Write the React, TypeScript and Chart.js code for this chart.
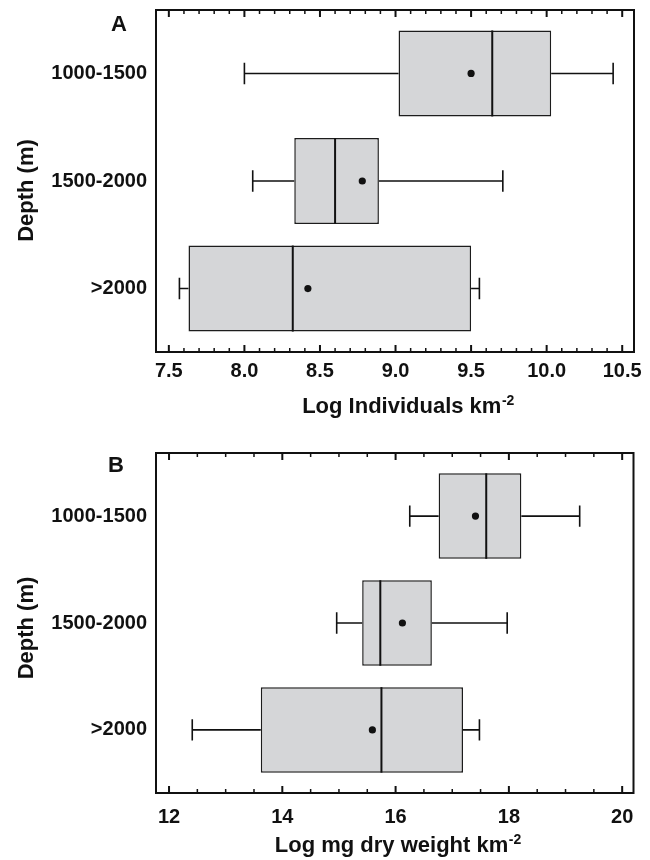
import React, { useEffect, useRef } from "react";
import { Chart, registerables } from "chart.js";

Chart.register(...registerables);

// ---------- data ----------
const DEPTHS = ["1000-1500", "1500-2000", ">2000"];

// Panel A: Log Individuals km-2
const A_LOW = [8.0, 8.055, 7.57];
const A_Q1 = [9.02, 8.33, 7.63];
const A_MEDIAN = [9.64, 8.6, 8.32];
const A_Q3 = [10.03, 8.89, 9.5];
const A_HIGH = [10.44, 9.71, 9.555];
const A_MEAN = [9.5, 8.78, 8.42];
const A_TICKS = [7.5, 8.0, 8.5, 9.0, 9.5, 10.0, 10.5];
const A_MINOR_STEP = 0.1;

// Panel B: Log mg dry weight km-2
const B_LOW = [16.25, 14.96, 12.41];
const B_Q1 = [16.76, 15.41, 13.62];
const B_MEDIAN = [17.6, 15.73, 15.75];
const B_Q3 = [18.22, 16.64, 17.19];
const B_HIGH = [19.25, 17.97, 17.48];
const B_MEAN = [17.41, 16.12, 15.59];
const B_TICKS = [12, 14, 16, 18, 20];
const B_MINOR_STEP = 0.5;

const FONT = "'Liberation Sans', Arial, Helvetica, sans-serif";
const INK = "#111111";
const BOX_FILL = "#d5d6d8";

type PanelCfg = {
  letter: string;
  low: number[];
  q1: number[];
  median: number[];
  q3: number[];
  high: number[];
  mean: number[];
  ticks: number[];
  minorStep: number;
  decimals: number;
  xMin: number;
  xMax: number;
  titleMain: string;
  titleSup: string;
  padTop: number;
  padRight: number;
  xAxisHeight: number;
  yAxisWidth: number;
  tickPad: number;
  letterX: number;
  letterY: number;
  xTitleBaseline: number;
  xTitleShift: number;
  yTitleX: number;
  yTitleShift: number;
};

const PANEL_A: PanelCfg = {
  letter: "A",
  low: A_LOW,
  q1: A_Q1,
  median: A_MEDIAN,
  q3: A_Q3,
  high: A_HIGH,
  mean: A_MEAN,
  ticks: A_TICKS,
  minorStep: A_MINOR_STEP,
  decimals: 1,
  xMin: 7.415,
  xMax: 10.578,
  titleMain: "Log Individuals km",
  titleSup: "-2",
  padTop: 10,
  padRight: 16,
  xAxisHeight: 78,
  yAxisWidth: 156,
  tickPad: 7,
  letterX: 111,
  letterY: 31,
  xTitleBaseline: 413,
  xTitleShift: 13,
  yTitleX: 33,
  yTitleShift: 9.5,
};

const PANEL_B: PanelCfg = {
  letter: "B",
  low: B_LOW,
  q1: B_Q1,
  median: B_MEDIAN,
  q3: B_Q3,
  high: B_HIGH,
  mean: B_MEAN,
  ticks: B_TICKS,
  minorStep: B_MINOR_STEP,
  decimals: 0,
  xMin: 11.77,
  xMax: 20.2,
  titleMain: "Log mg dry weight km",
  titleSup: "-2",
  padTop: 23,
  padRight: 16.5,
  xAxisHeight: 67,
  yAxisWidth: 156,
  tickPad: 12,
  letterX: 108,
  letterY: 42,
  xTitleBaseline: 422,
  xTitleShift: 3,
  yTitleX: 33,
  yTitleShift: 5,
};

const Y_MIN = 0.41;
const Y_MAX = 3.59;
const CAP_HALF = 0.1;

function makeExtras(cfg: PanelCfg) {
  return {
    id: "boxExtras" + cfg.letter,
    afterDatasetsDraw(chart: any) {
      const { ctx, scales } = chart;
      const x = scales.x;
      const y = scales.y;
      const meta = chart.getDatasetMeta(0);
      ctx.save();
      ctx.strokeStyle = INK;
      ctx.fillStyle = INK;
      for (let i = 0; i < DEPTHS.length; i++) {
        const bar = meta.data[i];
        const yc = y.getPixelForValue(i + 1);
        const top = bar.y - bar.height / 2;
        const bottom = bar.y + bar.height / 2;
        const capT = y.getPixelForValue(i + 1 - CAP_HALF);
        const capB = y.getPixelForValue(i + 1 + CAP_HALF);
        const xl = x.getPixelForValue(cfg.low[i]);
        const x1 = x.getPixelForValue(cfg.q1[i]);
        const x3 = x.getPixelForValue(cfg.q3[i]);
        const xh = x.getPixelForValue(cfg.high[i]);
        ctx.lineWidth = 1.6;
        ctx.beginPath();
        ctx.moveTo(xl, yc);
        ctx.lineTo(x1, yc);
        ctx.moveTo(x3, yc);
        ctx.lineTo(xh, yc);
        ctx.moveTo(xl, capT);
        ctx.lineTo(xl, capB);
        ctx.moveTo(xh, capT);
        ctx.lineTo(xh, capB);
        ctx.stroke();
        // median
        const xm = x.getPixelForValue(cfg.median[i]);
        ctx.lineWidth = 2;
        ctx.beginPath();
        ctx.moveTo(xm, top);
        ctx.lineTo(xm, bottom);
        ctx.stroke();
        // mean
        ctx.beginPath();
        ctx.arc(x.getPixelForValue(cfg.mean[i]), yc, 3.6, 0, Math.PI * 2);
        ctx.fill();
      }
      ctx.restore();
    },
    afterDraw(chart: any) {
      const { ctx, chartArea, scales } = chart;
      const x = scales.x;
      const { left, right, top, bottom } = chartArea;
      ctx.save();
      // frame
      ctx.strokeStyle = INK;
      ctx.lineWidth = 2;
      ctx.strokeRect(left, top, right - left, bottom - top);
      // inward tick marks, top and bottom
      const first = cfg.ticks[0];
      const last = cfg.ticks[cfg.ticks.length - 1];
      const majorStep = cfg.ticks[1] - cfg.ticks[0];
      const n = Math.round((last - first) / cfg.minorStep);
      const per = Math.round(majorStep / cfg.minorStep);
      for (let k = 0; k <= n; k++) {
        const v = first + k * cfg.minorStep;
        const px = x.getPixelForValue(v);
        const major = k % per === 0;
        const len = major ? 7 : 4;
        ctx.lineWidth = major ? 2 : 1.5;
        ctx.beginPath();
        ctx.moveTo(px, top);
        ctx.lineTo(px, top + len);
        ctx.moveTo(px, bottom);
        ctx.lineTo(px, bottom - len);
        ctx.stroke();
      }
      // panel letter
      ctx.fillStyle = INK;
      ctx.textAlign = "left";
      ctx.textBaseline = "alphabetic";
      ctx.font = `bold 22px ${FONT}`;
      ctx.fillText(cfg.letter, cfg.letterX, cfg.letterY);
      // x title with superscript
      ctx.font = `bold 22px ${FONT}`;
      const wMain = ctx.measureText(cfg.titleMain).width;
      ctx.font = `bold 14px ${FONT}`;
      const wSup = ctx.measureText(cfg.titleSup).width;
      const cx = (left + right) / 2 + cfg.xTitleShift;
      const sx = cx - (wMain + wSup) / 2;
      ctx.font = `bold 22px ${FONT}`;
      ctx.fillText(cfg.titleMain, sx, cfg.xTitleBaseline);
      ctx.font = `bold 14px ${FONT}`;
      ctx.fillText(cfg.titleSup, sx + wMain + 0.5, cfg.xTitleBaseline - 8);
      // y title
      ctx.font = `bold 22px ${FONT}`;
      ctx.translate(cfg.yTitleX, (top + bottom) / 2 + cfg.yTitleShift);
      ctx.rotate(-Math.PI / 2);
      ctx.textAlign = "center";
      ctx.fillText("Depth (m)", 0, 0);
      ctx.restore();
    },
  };
}

function BoxPanel({ cfg }: { cfg: PanelCfg }) {
  const ref = useRef<HTMLCanvasElement | null>(null);
  useEffect(() => {
    if (!ref.current) return;
    const chart = new Chart(ref.current, {
      type: "bar",
      data: {
        labels: DEPTHS,
        datasets: [
          {
            data: DEPTHS.map((_, i) => ({ x: [cfg.q1[i], cfg.q3[i]], y: i + 1 })) as any,
            backgroundColor: BOX_FILL,
            borderColor: "#1c1c1c",
            borderWidth: 1.5,
            borderSkipped: false,
            barPercentage: 0.8,
            categoryPercentage: 1,
          },
        ],
      },
      options: {
        indexAxis: "y",
        animation: false,
        responsive: false,
        maintainAspectRatio: false,
        devicePixelRatio: 1,
        layout: { padding: { top: cfg.padTop, right: cfg.padRight, left: 0, bottom: 0 } },
        plugins: {
          legend: { display: false },
          tooltip: { enabled: false },
          title: { display: false },
        },
        scales: {
          x: {
            type: "linear",
            position: "bottom",
            offset: false,
            min: cfg.xMin,
            max: cfg.xMax,
            afterBuildTicks: (s: any) => {
              s.ticks = cfg.ticks.map((v) => ({ value: v }));
            },
            afterFit: (s: any) => {
              s.height = cfg.xAxisHeight;
              s.paddingLeft = 0;
              s.paddingRight = 0;
            },
            grid: { display: false, drawTicks: false, offset: false },
            border: { display: false },
            ticks: {
              autoSkip: false,
              maxRotation: 0,
              padding: cfg.tickPad,
              color: INK,
              font: { family: FONT, size: 20, weight: "bold" },
              callback: (v: any) => Number(v).toFixed(cfg.decimals),
            },
          },
          y: {
            type: "linear",
            offset: false,
            min: Y_MIN,
            max: Y_MAX,
            reverse: true,
            afterBuildTicks: (s: any) => {
              s.ticks = DEPTHS.map((_, i) => ({ value: i + 1 }));
            },
            afterFit: (s: any) => {
              s.width = cfg.yAxisWidth;
              s.paddingTop = 0;
              s.paddingBottom = 0;
            },
            grid: { display: false, drawTicks: false, offset: false },
            border: { display: false },
            ticks: {
              autoSkip: false,
              padding: 9,
              color: INK,
              font: { family: FONT, size: 20, weight: "bold" },
              callback: (v: any) => DEPTHS[Math.round(Number(v)) - 1] ?? "",
            },
          },
        },
      } as any,
      plugins: [makeExtras(cfg)],
    });
    return () => chart.destroy();
  }, [cfg]);
  return (
    <canvas
      ref={ref}
      width={650}
      height={430}
      style={{ display: "block", width: 650, height: 430 }}
    />
  );
}

export default function App() {
  return (
    <div style={{ position: "absolute", left: 0, top: 0, width: 650, height: 860, background: "#fff" }}>
      <BoxPanel cfg={PANEL_A} />
      <BoxPanel cfg={PANEL_B} />
    </div>
  );
}
